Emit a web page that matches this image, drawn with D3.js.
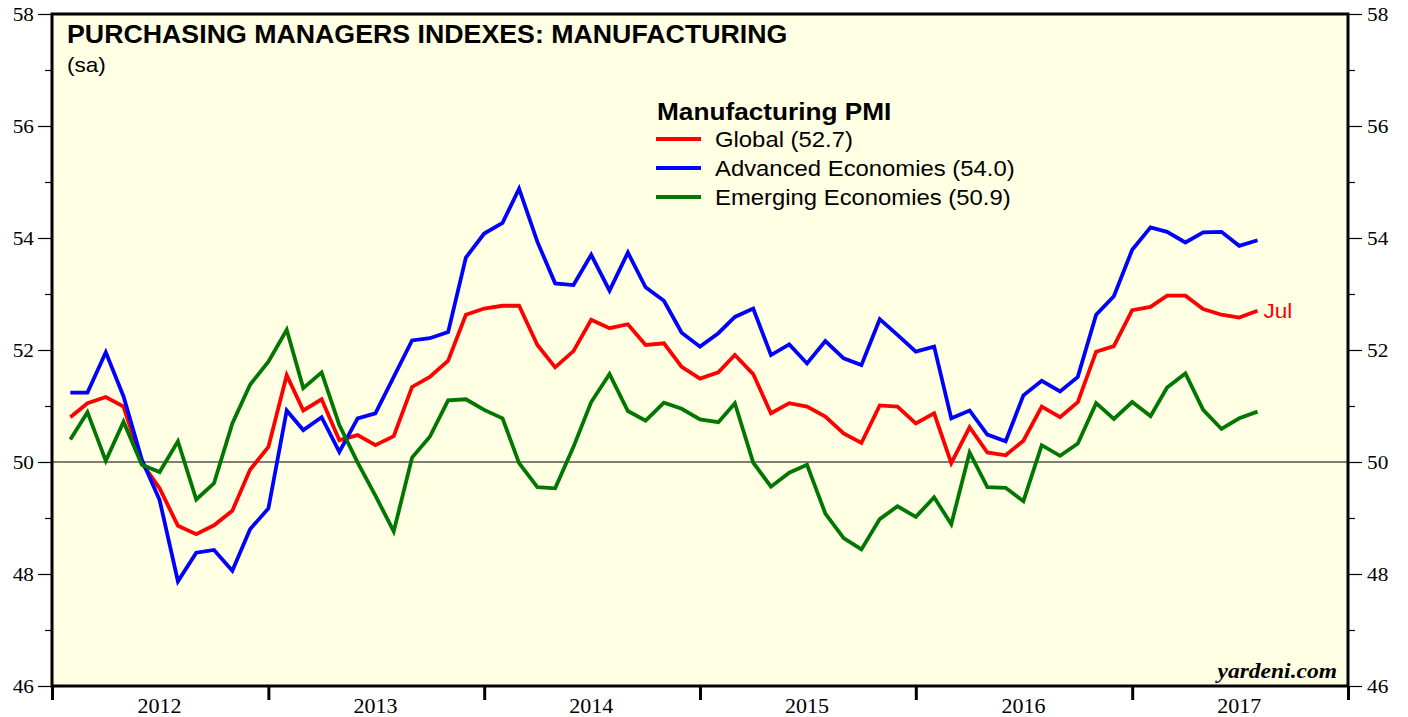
<!DOCTYPE html>
<html>
<head>
<meta charset="utf-8">
<script src="https://cdn.jsdelivr.net/npm/d3@7"></script>
<style>
  body { margin: 0; background: #fff; }
  svg { display: block; }
</style>
</head>
<body>
<div id="chart"></div>
<script>
// monthly readings, Jan 2012 .. Jul 2017
const startYear = 2012, startMonth = 0;
const global = [
  50.80, 51.05, 51.16, 50.99, 49.98, 49.53, 48.86, 48.71, 48.87, 49.13, 49.86, 50.27,
  51.55, 50.92, 51.12, 50.39, 50.48, 50.30, 50.46, 51.34, 51.52, 51.81, 52.63, 52.74,
  52.79, 52.79, 52.09, 51.69, 51.98, 52.54, 52.39, 52.46, 52.09, 52.12, 51.70, 51.49,
  51.60, 51.91, 51.57, 50.87, 51.05, 50.99, 50.81, 50.51, 50.34, 51.01, 50.99, 50.69,
  50.87, 49.98, 50.62, 50.17, 50.12, 50.38, 50.99, 50.80, 51.07, 51.97, 52.07, 52.71,
  52.77, 52.97, 52.97, 52.73, 52.63, 52.58, 52.70
];
const advanced = [
  51.24, 51.24, 51.96, 51.17, 50.04, 49.32, 47.87, 48.38, 48.43, 48.06, 48.80, 49.17,
  50.92, 50.57, 50.80, 50.18, 50.78, 50.87, 51.52, 52.17, 52.21, 52.32, 53.65, 54.08,
  54.27, 54.88, 53.93, 53.19, 53.16, 53.70, 53.06, 53.74, 53.12, 52.88, 52.31, 52.06,
  52.30, 52.59, 52.74, 51.91, 52.10, 51.76, 52.16, 51.85, 51.73, 52.55, 52.27, 51.97,
  52.06, 50.78, 50.92, 50.49, 50.37, 51.19, 51.45, 51.26, 51.52, 52.63, 52.96, 53.79,
  54.19, 54.11, 53.92, 54.10, 54.11, 53.86, 53.96
];
const emerging = [
  50.40, 50.89, 50.02, 50.72, 49.95, 49.82, 50.37, 49.33, 49.62, 50.69, 51.38, 51.79,
  52.36, 51.32, 51.60, 50.66, 49.99, 49.40, 48.76, 50.08, 50.45, 51.10, 51.12, 50.93,
  50.78, 49.98, 49.55, 49.53, 50.27, 51.07, 51.57, 50.91, 50.74, 51.06, 50.95, 50.76,
  50.71, 51.05, 49.99, 49.56, 49.81, 49.95, 49.08, 48.64, 48.44, 48.98, 49.21, 49.02,
  49.37, 48.89, 50.17, 49.55, 49.54, 49.30, 50.30, 50.11, 50.33, 51.05, 50.77, 51.07,
  50.82, 51.33, 51.58, 50.93, 50.59, 50.78, 50.90
];
const seriesNames = ["Global (52.7)", "Advanced Economies (54.0)", "Emerging Economies (50.9)"];
const seriesColors = ["#ff0000", "#0000ff", "#007700"];
const yearLabels = [2012, 2013, 2014, 2015, 2016, 2017];
const yTicks = [46, 48, 50, 52, 54, 56, 58];

const width = 1408, height = 717;
const plotL = 52, plotR = 1348, plotT = 14, plotB = 686;
const serif = "'Liberation Serif', 'Times New Roman', serif";
const sans = "'Liberation Sans', Arial, Helvetica, sans-serif";

const svg = d3.select("#chart").append("svg")
  .attr("width", width)
  .attr("height", height);

// text in the original is a little wider than the font, so stretch it
function label(g, tx, ty, str, size, sx, family) {
  return g.append("text")
    .attr("transform", `translate(${tx},${ty}) scale(${sx},1)`)
    .attr("font-family", family || sans)
    .attr("font-size", size)
    .text(str);
}

const x = d3.scaleTime()
  .domain([new Date(2012, 0, 1), new Date(2018, 0, 1)])
  .range([plotL, plotR]);
const y = d3.scaleLinear()
  .domain([46, 58])
  .range([plotB, plotT]);

// plot background
svg.append("rect")
  .attr("x", plotL).attr("y", plotT)
  .attr("width", plotR - plotL).attr("height", plotB - plotT)
  .attr("fill", "#ffffe3");

// 50 reference line
svg.append("line")
  .attr("x1", plotL).attr("x2", plotR)
  .attr("y1", y(50)).attr("y2", y(50))
  .attr("stroke", "#000").attr("stroke-width", 1);

// points plotted at month end
const dateOf = i => new Date(startYear, startMonth + i + 1, 1);
const line = d3.line()
  .x((d, i) => x(dateOf(i)))
  .y(d => y(d));

[global, advanced, emerging].forEach((s, k) => {
  svg.append("path")
    .datum(s)
    .attr("d", line)
    .attr("fill", "none")
    .attr("stroke", seriesColors[k])
    .attr("stroke-width", 3.8)
    .attr("stroke-linejoin", "miter");
});

// y axes, major + minor ticks
const minorTicks = d3.range(47, 58, 2);
function styleAxis(g) {
  g.select(".domain").remove();
  g.selectAll(".tick line").attr("stroke", "#000").attr("stroke-width", 1.2);
  g.selectAll("text")
    .attr("font-family", serif).attr("font-size", 19).attr("fill", "#000")
    .attr("transform", function () {
      const tx = +d3.select(this).attr("x");
      return `translate(${tx},0) scale(1.12,1) translate(${-tx},0)`;
    });
}
svg.append("g").attr("transform", `translate(${plotL},0)`)
  .call(d3.axisLeft(y).tickValues(yTicks).tickSize(14).tickPadding(4).tickFormat(d3.format("d")))
  .call(styleAxis);
svg.append("g").attr("transform", `translate(${plotL},0)`)
  .call(d3.axisLeft(y).tickValues(minorTicks).tickSize(7).tickFormat(""))
  .call(styleAxis);
svg.append("g").attr("transform", `translate(${plotR},0)`)
  .call(d3.axisRight(y).tickValues(yTicks).tickSize(14).tickPadding(5).tickFormat(d3.format("d")))
  .call(styleAxis);
svg.append("g").attr("transform", `translate(${plotR},0)`)
  .call(d3.axisRight(y).tickValues(minorTicks).tickSize(7).tickFormat(""))
  .call(styleAxis);

// x axis: year boundaries as ticks, labels centred in each year
const yearStarts = d3.range(2012, 2019).map(yr => new Date(yr, 0, 1));
svg.append("g").attr("transform", `translate(0,${plotB})`)
  .call(d3.axisBottom(x).tickValues(yearStarts).tickSize(14).tickFormat(""))
  .call(g => {
    g.select(".domain").remove();
    g.selectAll(".tick line").attr("stroke", "#000").attr("stroke-width", 3);
  });
const yearG = svg.append("g");
yearLabels.forEach(d => {
  label(yearG, x(new Date(d, 6, 1)), 713, d, 20, 1.1, serif)
    .attr("text-anchor", "middle");
});

// frame
svg.append("rect")
  .attr("x", plotL).attr("y", plotT)
  .attr("width", plotR - plotL).attr("height", plotB - plotT)
  .attr("fill", "none")
  .attr("stroke", "#000")
  .attr("stroke-width", 3);

// titles
label(svg, 67, 43, "PURCHASING MANAGERS INDEXES: MANUFACTURING", 25, 1.07)
  .attr("font-weight", "bold");
label(svg, 67, 72, "(sa)", 20.5, 1.1);

// legend
const legend = svg.append("g");
label(legend, 657, 120, "Manufacturing PMI", 24.5, 1.07).attr("font-weight", "bold");
seriesNames.forEach((name, k) => {
  const cy = 139 + k * 29;
  legend.append("line")
    .attr("x1", 656).attr("x2", 701)
    .attr("y1", cy).attr("y2", cy)
    .attr("stroke", seriesColors[k]).attr("stroke-width", 3.8);
  label(legend, 715, cy + 7.5, name, 21.5, 1.11);
});

// last-month label
label(svg, x(dateOf(global.length - 1)) + 6, y(global[global.length - 1]) + 7, "Jul", 20.5, 1.1)
  .attr("fill", "#ff0000");

label(svg, 1337, 678, "yardeni.com", 21, 1.12, serif)
  .attr("text-anchor", "end")
  .attr("font-style", "italic").attr("font-weight", "bold");
</script>
</body>
</html>
